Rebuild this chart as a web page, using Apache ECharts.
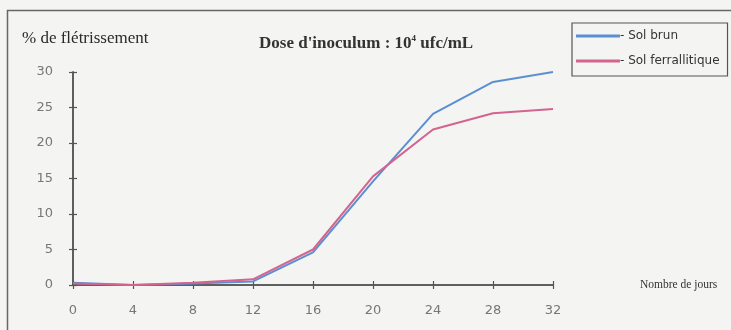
<!DOCTYPE html>
<html>
<head>
<meta charset="utf-8">
<script src="https://cdn.jsdelivr.net/npm/echarts@6/dist/echarts.min.js"></script>
<style>
  html, body { margin: 0; padding: 0; background: #f6f6f4; }
  #chart { width: 731px; height: 330px; }
</style>
</head>
<body>
<div id="chart"></div>
<script>
  // jours d'observation
  var days = [0, 4, 8, 12, 16, 20, 24, 28, 32];
  // % de flétrissement
  var solBrun = [0.3, 0, 0.2, 0.5, 4.6, 14.6, 24.1, 28.6, 30];
  var solFerral = [0.2, 0, 0.3, 0.8, 5.0, 15.3, 21.9, 24.2, 24.8];

  var chart = echarts.init(document.getElementById('chart'));

  function pairs(vals) {
    return days.map(function (d, i) { return [d, vals[i]]; });
  }

  var axisColor = '#555';
  var labelStyle = { color: '#777', fontSize: 13, fontFamily: 'DejaVu Sans' };

  var option = {
    backgroundColor: '#f4f4f2',
    animation: false,
    graphic: [{
      // cadre extérieur
      type: 'rect',
      shape: { x: 7.5, y: 10.5, width: 730, height: 330 },
      style: { fill: null, stroke: '#666', lineWidth: 1.5 }
    }, {
      type: 'text',
      left: 22, top: 30,
      style: { text: '% de flétrissement', fill: '#2a2a2a', font: '17px "Liberation Serif"' }
    }],
    title: {
      text: "Dose d'inoculum : 10{sup|4} ufc/mL",
      left: 254, top: 29,
      textStyle: {
        fontFamily: 'Liberation Serif', fontSize: 17, fontWeight: 'bold', color: '#333',
        rich: { sup: { fontSize: 9, fontWeight: 'bold', fontFamily: 'Liberation Serif', verticalAlign: 'top', padding: [0, 0, 10, 0], color: '#333' } }
      }
    },
    legend: {
      orient: 'vertical',
      left: 572, top: 23,
      padding: [7, 8, 9, 4],
      itemGap: 13,
      itemWidth: 44,
      itemHeight: 3,
      icon: 'rect',
      borderColor: '#555',
      borderWidth: 1.2,
      formatter: '- {name}',
      textStyle: { fontFamily: 'DejaVu Sans', fontSize: 12, color: '#333', padding: [0, 0, 0, -5] },
      data: ['Sol brun', 'Sol ferrallitique']
    },
    // deuxième grille superposée : graduations vers l'intérieur
    grid: [
      { left: 73, right: 178, top: 72, bottom: 45 },
      { left: 73, right: 178, top: 72, bottom: 45 }
    ],
    xAxis: [{
      type: 'value', min: 0, max: 32, interval: 4,
      name: 'Nombre de jours',
      nameLocation: 'end', nameGap: 87,
      nameTextStyle: { fontFamily: 'Liberation Serif', fontSize: 11.5, color: '#333', verticalAlign: 'middle' },
      axisLine: { lineStyle: { color: axisColor, width: 1.5 } },
      axisTick: { length: 4, lineStyle: { color: axisColor, width: 1.2 } },
      axisLabel: Object.assign({ margin: 19 }, labelStyle),
      splitLine: { show: false }
    }, {
      gridIndex: 1,
      type: 'value', min: 0, max: 32, interval: 4,
      axisLine: { show: true, lineStyle: { color: axisColor, width: 1.5 } },
      axisTick: { show: true, inside: true, length: 4, lineStyle: { color: axisColor, width: 1.2 } },
      axisLabel: { show: false },
      splitLine: { show: false }
    }],
    yAxis: [{
      type: 'value', min: 0, max: 30, interval: 5,
      axisLine: { show: true, lineStyle: { color: axisColor, width: 1.5 } },
      axisTick: { show: true, length: 4, lineStyle: { color: axisColor, width: 1.2 } },
      axisLabel: Object.assign({ margin: 20 }, labelStyle),
      splitLine: { show: false }
    }, {
      gridIndex: 1,
      type: 'value', min: 0, max: 30, interval: 5,
      axisLine: { show: true, lineStyle: { color: axisColor, width: 1.5 } },
      axisTick: { show: true, inside: true, length: 4, lineStyle: { color: axisColor, width: 1.2 } },
      axisLabel: { show: false },
      splitLine: { show: false }
    }],
    series: [{
      name: 'Sol brun',
      type: 'line',
      symbol: 'none',
      color: '#5b8fd2',
      lineStyle: { width: 2 },
      data: pairs(solBrun)
    }, {
      name: 'Sol ferrallitique',
      type: 'line',
      symbol: 'none',
      color: '#d4648f',
      lineStyle: { width: 2 },
      data: pairs(solFerral)
    }, {
      // copie invisible pour que la deuxième grille ait une étendue
      type: 'line',
      xAxisIndex: 1,
      yAxisIndex: 1,
      symbol: 'none',
      silent: true,
      lineStyle: { opacity: 0 },
      data: pairs(solBrun)
    }]
  };

  chart.setOption(option);
</script>
</body>
</html>
